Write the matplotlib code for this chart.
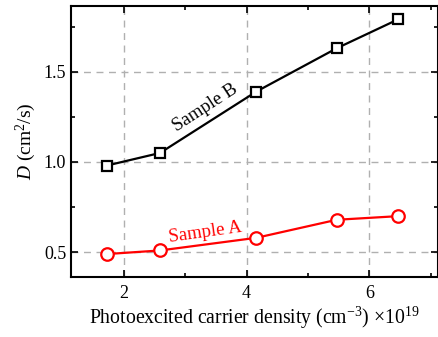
import numpy as np
import matplotlib
matplotlib.use("Agg")
import matplotlib.pyplot as plt

plt.rcParams['font.family'] = ['Liberation Serif', 'DejaVu Serif']
plt.rcParams['mathtext.fontset'] = 'custom'
plt.rcParams['mathtext.rm'] = 'Liberation Serif'
plt.rcParams['mathtext.it'] = 'Liberation Serif:italic'

# carrier density (x1e19 cm^-3) and diffusion coefficient D (cm^2/s)
density = [1.72, 2.59, 4.16, 5.47, 6.47]
d_sample_b = [0.98, 1.05, 1.39, 1.63, 1.79]
d_sample_a = [0.49, 0.51, 0.58, 0.68, 0.70]

fig = plt.figure(figsize=(4.39, 3.37), dpi=100)
ax = fig.add_axes([71 / 439, 60 / 337, 367 / 439, 271 / 337])

ax.plot(density, d_sample_b, '-s', color='black', lw=1.6, ms=7.5,
        mfc='white', mec='black', mew=1.6, zorder=3)
ax.plot(density, d_sample_a, '-o', color='red', lw=1.6, ms=9,
        mfc='white', mec='red', mew=1.6, zorder=3)

ax.text(3.32, 1.30, 'Sample B', rotation=33, fontsize=13.5, ha='center', va='center')
ax.text(3.33, 0.612, 'Sample A', rotation=8, fontsize=13.5, color='red', ha='center', va='center')

ax.set_xlim(1.14, 7.12)
ax.set_ylim(0.363, 1.864)
ax.set_xticks([2, 4, 6])
ax.set_xticks([3, 5, 7], minor=True)
ax.set_yticks([0.5, 1.0, 1.5])
ax.set_yticklabels(['0.5', '1.0', '1.5'])
ax.set_yticks([0.75, 1.25, 1.75], minor=True)
ax.tick_params(which='both', direction='in', top=True, right=True, labelsize=13, width=1.2)
ax.tick_params(which='major', length=5)
ax.tick_params(which='minor', length=3)
ax.tick_params(axis='x', pad=6)
for s in ax.spines.values():
    s.set_linewidth(1.5)
ax.grid(True, which='major', ls=(0, (5, 4)), color='#b0b0b0', lw=1)

ax.set_xlabel('Photoexcited carrier density (cm$^{-3}$) $\\times$10$^{19}$', fontsize=14.2, labelpad=2)
ax.set_ylabel('$D$ (cm$^2$/s)', fontsize=14, labelpad=4)

fig.savefig('out.png', dpi=100)
